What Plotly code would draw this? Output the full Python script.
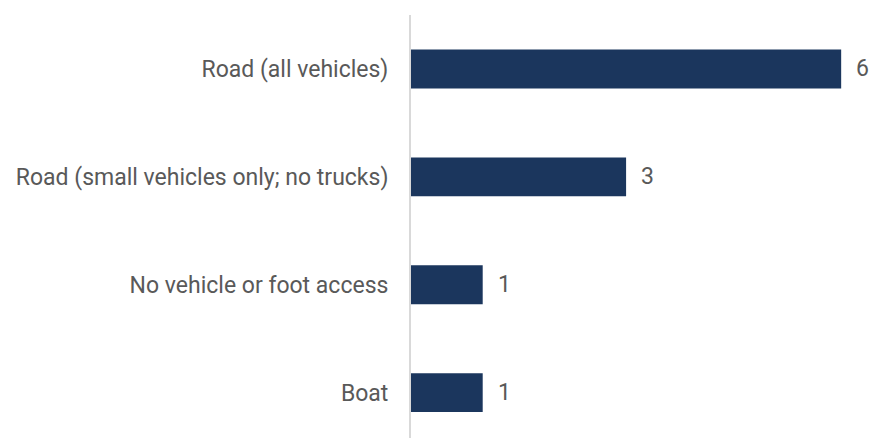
import plotly.graph_objects as go

# Access modes and counts, listed top to bottom
categories = [
    "Road (all vehicles)",
    "Road (small vehicles only; no trucks)",
    "No vehicle or foot access",
    "Boat",
]
counts = [6, 3, 1, 1]

bar_color = "#1b365d"
text_color = "#595959"
font_family = "Roboto, Arial, sans-serif"
font_size = 23

fig = go.Figure()
fig.add_trace(go.Bar(
    x=counts,
    y=categories,
    orientation="h",
    marker=dict(color=bar_color, line=dict(width=0)),
    width=0.36,
    hoverinfo="skip",
))

# value labels to the right of each bar
for cat, val in zip(categories, counts):
    fig.add_annotation(
        x=val, y=cat, text=str(val), showarrow=False,
        xanchor="left", yanchor="middle", xshift=13,
        font=dict(size=font_size, color=text_color, family=font_family),
    )

fig.update_layout(
    width=872, height=438,
    margin=dict(l=411, r=0, t=15, b=0),
    paper_bgcolor="white", plot_bgcolor="white",
    showlegend=False,
    font=dict(family=font_family, size=font_size, color=text_color),
    xaxis=dict(range=[0, 6.43], showgrid=False, zeroline=False,
               showticklabels=False, showline=False, fixedrange=True),
    yaxis=dict(categoryorder="array", categoryarray=categories,
               range=[3.42, -0.5], showgrid=False, zeroline=False,
               showline=True, linecolor="#d9d9d9", linewidth=2,
               ticks="", ticklabelstandoff=16,
               tickfont=dict(size=font_size, color=text_color,
                             family=font_family)),
)

fig.write_html("out.html")
